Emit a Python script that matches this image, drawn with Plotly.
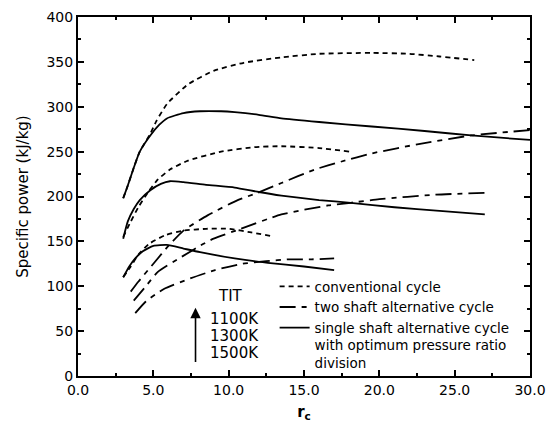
import plotly.graph_objects as go

# ---- data ----
conv_1500_x = [3.0, 3.3, 3.7, 4.1, 4.8, 5.2, 5.9, 7.3, 9.0, 11.0, 13.5, 16.0, 19.5, 22.0, 24.0, 26.3]
conv_1500_y = [198, 212, 232, 250, 270, 284, 303, 325, 340, 349, 355, 359, 360, 359, 356, 352]
conv_1300_x = [3.0, 3.5, 4.0, 4.7, 5.3, 6.1, 7.3, 9.5, 11.7, 13.5, 16.0, 18.0]
conv_1300_y = [155, 172, 188, 206, 219, 230, 240, 250, 255, 256, 254, 250]
conv_1100_x = [3.0, 3.5, 4.0, 4.7, 5.8, 7.0, 8.5, 10.0, 11.5, 12.8]
conv_1100_y = [110, 122, 135, 147, 157, 162, 164, 164, 160, 156]

two_1500_x = [3.5, 4.0, 5.1, 6.0, 7.0, 8.6, 10.6, 11.9, 13.5, 15.7, 17.5, 19.5, 22.8, 26.1, 30.0]
two_1500_y = [94, 105, 127, 145, 162, 179, 196, 204, 215, 230, 239, 248, 259, 268, 274]
two_1300_x = [3.7, 4.5, 5.3, 6.9, 8.3, 9.0, 10.8, 13.5, 16.6, 18.1, 20.0, 23.7, 27.0]
two_1300_y = [84, 100, 116, 133, 147, 153, 164, 180, 190, 193, 197, 202, 204]
two_1100_x = [3.8, 4.5, 5.7, 7.5, 9.1, 10.9, 12.5, 14.0, 15.5, 17.0]
two_1100_y = [70, 83, 97, 109, 118, 125, 128, 130, 130, 131]

single_1500_x = [3.0, 3.3, 3.7, 4.1, 4.8, 5.4, 5.9, 7.0, 8.1, 9.5, 10.4, 12.0, 13.5, 16.0, 19.5, 23.0, 26.1, 30.0]
single_1500_y = [198, 212, 232, 250, 268, 280, 287, 293, 295, 295, 294, 291, 287, 283, 278, 273, 268, 263]
single_1300_x = [3.0, 3.3, 3.7, 4.1, 4.8, 5.5, 6.1, 7.0, 8.5, 10.4, 12.0, 13.5, 16.0, 18.1, 21.0, 24.0, 27.0]
single_1300_y = [153, 172, 186, 196, 207, 214, 217, 216, 213, 210, 205, 201, 196, 193, 188, 184, 180]
single_1100_x = [3.0, 3.4, 3.8, 4.3, 5.0, 5.9, 7.0, 8.1, 10.4, 12.6, 15.0, 17.0]
single_1100_y = [110, 122, 131, 139, 145, 146, 142, 138, 131, 126, 122, 118]

legend_names = ["conventional cycle", "two shaft alternative cycle",
                "single shaft alternative cycle<br>with optimum pressure ratio<br>division"]
tit_labels = ["TIT", "1100K", "1300K", "1500K"]

x_ticks = [0, 5, 10, 15, 20, 25, 30]
y_ticks = [0, 50, 100, 150, 200, 250, 300, 350, 400]

FONT = "DejaVu Sans"
dash_conv = "5px,4px"
dash_two = "16px,6px,5px,6px"

fig = go.Figure()

groups = [
    (legend_names[0], dash_conv, [(conv_1500_x, conv_1500_y), (conv_1300_x, conv_1300_y), (conv_1100_x, conv_1100_y)]),
    (legend_names[1], dash_two, [(two_1500_x, two_1500_y), (two_1300_x, two_1300_y), (two_1100_x, two_1100_y)]),
    (legend_names[2], "solid", [(single_1500_x, single_1500_y), (single_1300_x, single_1300_y), (single_1100_x, single_1100_y)]),
]
for name, dash, curves in groups:
    for i, (xs, ys) in enumerate(curves):
        fig.add_trace(go.Scatter(
            x=xs, y=ys, mode="lines", name=name, legendgroup=name,
            showlegend=(i == 0), line=dict(color="black", width=1.8, dash=dash, shape="spline", smoothing=0.5)))

# TIT annotation
fig.add_annotation(x=10.1, y=89, text=tit_labels[0], showarrow=False, xref="x", yref="y",
                   font=dict(family=FONT, size=15, color="black"))
for lab, yy in zip(tit_labels[1:], [64, 45, 26]):
    fig.add_annotation(x=8.65, y=yy, text=lab, showarrow=False, xanchor="left", xref="x", yref="y",
                       font=dict(family=FONT, size=15, color="black"))
fig.add_annotation(x=7.8, y=76, ax=7.8, ay=14, xref="x", yref="y", axref="x", ayref="y",
                   text="", showarrow=True, arrowhead=2, arrowsize=1.3, arrowwidth=1.6, arrowcolor="black")

axis_common = dict(showline=True, linewidth=2, linecolor="black", mirror="ticks",
                   ticks="inside", ticklen=6, tickwidth=2, tickcolor="black",
                   showgrid=False, zeroline=False, automargin=False,
                   ticklabeloverflow="allow",
                   tickfont=dict(family=FONT, size=14, color="black"))

fig.update_xaxes(range=[0, 30], tickvals=x_ticks, tickformat=".1f",
                 minor=dict(ticks="inside", ticklen=3, tickwidth=2, dtick=2.5, tickcolor="black"),
                 title=dict(text="<b>r<sub>c</sub></b>", font=dict(family=FONT, size=15, color="black"), standoff=10),
                 **axis_common)
fig.update_yaxes(range=[0, 400], tickvals=y_ticks,
                 minor=dict(ticks="inside", ticklen=3, tickwidth=2, dtick=25, tickcolor="black"),
                 title=dict(text="Specific power (kJ/kg)", font=dict(family=FONT, size=15, color="black"), standoff=14),
                 **axis_common)

fig.update_layout(
    width=546, height=419,
    margin=dict(l=70, r=24, t=9, b=51),
    plot_bgcolor="white", paper_bgcolor="white",
    font=dict(family=FONT, size=14, color="black"),
    legend=dict(x=0.435, y=0.292, xanchor="left", yanchor="top", bgcolor="rgba(0,0,0,0)",
                font=dict(family=FONT, size=13.5, color="black"), valign="top",
                itemwidth=30, tracegroupgap=0),
)

fig.write_html("out.html")
